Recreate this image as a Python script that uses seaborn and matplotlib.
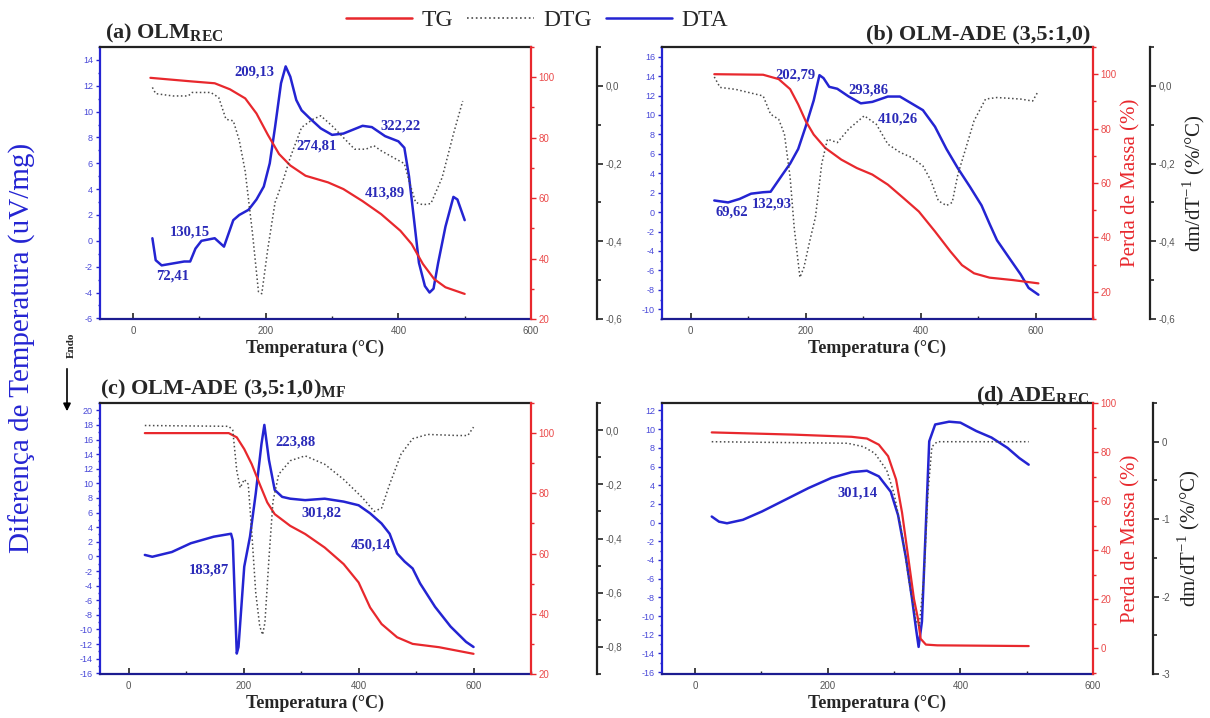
import matplotlib
matplotlib.use("Agg")
import matplotlib.pyplot as plt
import seaborn as sns
from matplotlib.lines import Line2D
from matplotlib.patches import FancyArrowPatch
from matplotlib.ticker import MultipleLocator, FuncFormatter

# ---------------------
# DATA
# ---------------------

# (a) OLM REC
a_dta_t = [29, 34, 43, 60, 77, 86, 94, 103, 123, 137, 151, 160, 174, 186, 197, 206, 214, 223, 230,
           237, 246, 254, 266, 283, 300, 317, 346, 360, 380, 400, 409, 416, 423, 431, 440, 447,
           453, 460, 471, 483, 489, 500]
a_dta = [0.2, -1.5, -1.9, -1.75, -1.6, -1.6, -0.6, 0.0, 0.2, -0.45, 1.6, 2.0, 2.4, 3.2, 4.2, 6.0,
         8.8, 12.2, 13.5, 12.7, 10.9, 10.1, 9.5, 8.7, 8.2, 8.3, 8.9, 8.8, 8.1, 7.7, 7.2, 5.0, 1.9,
         -1.7, -3.5, -4.0, -3.7, -1.7, 1.1, 3.4, 3.2, 1.6]
a_tg_t = [26, 89, 123, 146, 169, 186, 203, 220, 237, 260, 294, 317, 346, 374, 403, 420, 437, 454, 471, 500]
a_tg = [99.8, 98.6, 98.0, 96.0, 93.0, 88.0, 81.0, 74.6, 70.8, 67.4, 65.2, 63.0, 59.0, 54.7, 49.2,
        44.8, 38.2, 33.2, 30.5, 28.3]
a_dtg_t = [29, 34, 60, 83, 89, 117, 129, 140, 151, 160, 169, 180, 189, 194, 203, 214, 226, 237, 254,
           271, 283, 300, 317, 334, 351, 363, 374, 397, 409, 417, 426, 437, 449, 466, 483, 497]
a_dtg = [-0.004, -0.02, -0.026, -0.026, -0.017, -0.017, -0.03, -0.086, -0.09, -0.14, -0.22, -0.38,
         -0.53, -0.535, -0.42, -0.3, -0.244, -0.184, -0.107, -0.086, -0.077, -0.103, -0.133, -0.163,
         -0.163, -0.154, -0.167, -0.189, -0.2, -0.25, -0.3, -0.306, -0.303, -0.236, -0.124, -0.039]
a_peaks = ["209,13", "274,81", "322,22", "413,89", "130,15", "72,41"]
a_peak_x = [183, 277, 404, 380, 86, 60]
a_peak_y = [13.05, 7.3, 8.85, 3.7, 0.7, -2.7]

# (b) OLM-ADE (3,5:1,0)
b_dta_t = [41, 65, 85, 105, 126, 139, 146, 160, 173, 187, 200, 214, 224, 231, 241, 255, 275, 296,
           316, 343, 364, 384, 404, 425, 445, 465, 486, 506, 520, 533, 554, 574, 588, 605]
b_dta = [1.2, 1.0, 1.36, 1.9, 2.05, 2.1, 2.7, 3.9, 5.0, 6.5, 8.8, 11.5, 14.1, 13.8, 12.9, 12.7, 11.9,
         11.2, 11.35, 11.9, 11.9, 11.2, 10.5, 8.8, 6.5, 4.5, 2.6, 0.7, -1.2, -2.9, -4.7, -6.4, -7.8, -8.5]
b_tg_t = [41, 126, 153, 173, 187, 200, 214, 234, 262, 289, 316, 343, 370, 397, 425, 452, 472, 493,
          520, 561, 605]
b_tg = [100, 99.8, 98.2, 94.5, 88.9, 82.8, 77.8, 72.9, 68.6, 65.5, 63.1, 59.4, 54.5, 49.5, 42.2,
        34.8, 29.8, 26.8, 25.2, 24.3, 23.1]
b_dtg_t = [41, 51, 78, 112, 126, 139, 153, 163, 173, 180, 190, 197, 207, 217, 228, 238, 255, 275,
           302, 323, 343, 364, 384, 404, 418, 431, 445, 455, 465, 479, 493, 513, 533, 574, 595, 605]
b_dtg = [0.023, -0.004, -0.009, -0.021, -0.026, -0.073, -0.086, -0.124, -0.236, -0.364, -0.493,
         -0.467, -0.4, -0.338, -0.2, -0.137, -0.146, -0.111, -0.077, -0.099, -0.15, -0.171, -0.184,
         -0.206, -0.244, -0.296, -0.308, -0.3, -0.227, -0.159, -0.09, -0.034, -0.03, -0.034, -0.039, -0.013]
b_peaks = ["202,79", "293,86", "410,26", "69,62", "132,93"]
b_peak_x = [183, 309, 361, 71, 141]
b_peak_y = [14.1, 12.55, 9.6, 0.0, 0.85]

# (c) OLM-ADE (3,5:1,0) MF
c_dta_t = [28, 41, 75, 108, 148, 178, 181, 188, 191, 201, 211, 221, 231, 236, 244, 254, 267, 281,
           307, 341, 374, 400, 420, 440, 454, 467, 480, 494, 507, 533, 560, 587, 600]
c_dta = [0.2, -0.05, 0.6, 1.8, 2.7, 3.1, 2.2, -13.3, -12.4, -1.4, 2.7, 8.6, 15.4, 18.0, 13.2, 9.1,
         8.15, 7.9, 7.7, 7.9, 7.5, 7.0, 5.9, 4.5, 3.1, 0.4, -0.7, -1.65, -3.7, -6.9, -9.6, -11.7, -12.4]
c_tg_t = [28, 174, 188, 201, 214, 228, 241, 254, 281, 307, 341, 374, 400, 420, 440, 467, 494, 540, 600]
c_tg = [100, 100, 98.6, 94.7, 89.7, 83.0, 77.0, 73.1, 69.2, 66.5, 62.0, 56.5, 50.4, 42.1, 36.6,
        32.2, 30.0, 28.9, 26.7]
c_dtg_t = [28, 174, 181, 188, 194, 201, 208, 214, 221, 228, 233, 237, 244, 251, 261, 281, 307, 341,
           374, 407, 427, 440, 454, 474, 494, 520, 573, 590, 600]
c_dtg = [0.017, 0.014, 0.0, -0.15, -0.213, -0.182, -0.2, -0.375, -0.6, -0.724, -0.755, -0.71, -0.474,
         -0.263, -0.163, -0.113, -0.095, -0.126, -0.182, -0.25, -0.3, -0.288, -0.2, -0.088, -0.032,
         -0.016, -0.02, -0.02, 0.011]
c_peaks = ["223,88", "301,82", "450,14", "183,87"]
c_peak_x = [291, 335, 422, 139]
c_peak_y = [15.7, 5.9, 1.5, -1.9]

# (d) ADE REC
d_dta_t = [25, 36, 48, 72, 101, 136, 171, 206, 236, 259, 277, 295, 306, 318, 327, 333, 337, 342,
           348, 353, 362, 383, 400, 424, 447, 471, 489, 503]
d_dta = [0.65, 0.1, -0.07, 0.3, 1.2, 2.45, 3.7, 4.8, 5.4, 5.55, 4.95, 3.3, 0.8, -3.8, -8.1, -11.3,
         -13.3, -10.6, -0.2, 8.7, 10.5, 10.8, 10.7, 9.8, 9.1, 8.0, 6.9, 6.2]
d_tg_t = [25, 148, 236, 259, 277, 291, 303, 312, 321, 330, 336, 340, 348, 365, 503]
d_tg = [88, 87.1, 86.2, 85.5, 83, 78.3, 68.8, 55.3, 37.7, 20, 12, 3.8, 1.4, 1.1, 0.8]
d_dtg_t = [25, 230, 254, 271, 289, 300, 312, 324, 333, 338, 345, 351, 357, 365, 503]
d_dtg = [0, -0.02, -0.065, -0.15, -0.37, -0.67, -1.19, -1.88, -2.31, -2.38, -1.75, -0.67, -0.065, 0, 0]
d_peaks = ["301,14"]
d_peak_x = [245]
d_peak_y = [3.2]

# ---------------------
# STYLE
# ---------------------

sns.set_style("ticks")
plt.rcParams['font.family'] = ['Liberation Serif', 'DejaVu Serif']
plt.rcParams['mathtext.fontset'] = 'custom'
plt.rcParams['mathtext.rm'] = 'Liberation Serif'
plt.rcParams['mathtext.bf'] = 'Liberation Serif:bold'

BLUE = '#2424d2'
BLUE_TXT = '#2a2ab8'
RED = '#e8282d'
GREY = '#4a4a4a'

W, H = 1210, 718
fig = plt.figure(figsize=(12.1, 7.18), dpi=100)


def box(l, t, r, b):
    return [l / W, 1 - b / H, (r - l) / W, (b - t) / H]


def comma(fmt):
    def f(v, pos):
        if abs(v) < 1e-9:
            v = 0.0
        return (fmt % v).replace('.', ',')
    return FuncFormatter(f)


def panel(rect, t_dta, dta, t_tg, tg, t_dtg, dtg, xlim, ylim_dta, ylim_tg, ylim_dtg,
          dtg_step, dtg_fmt, offset_px, peaks, px, py, side_labels):
    ax = fig.add_axes(rect)
    ax_tg = ax.twinx()
    ax_dtg = ax.twinx()

    sns.lineplot(x=t_dta, y=dta, ax=ax, color=BLUE, linewidth=1.8,
                 estimator=None, sort=False)
    sns.lineplot(x=t_tg, y=tg, ax=ax_tg, color=RED, linewidth=1.6,
                 estimator=None, sort=False)
    sns.lineplot(x=t_dtg, y=dtg, ax=ax_dtg, color=GREY, linewidth=1.1,
                 linestyle=':', estimator=None, sort=False)

    ax.set_xlim(*xlim)
    ax.set_ylim(*ylim_dta)
    ax_tg.set_ylim(*ylim_tg)
    ax_dtg.set_ylim(*ylim_dtg)

    # spines
    ax.spines['left'].set_color(BLUE)
    ax.spines['bottom'].set_color('#1c1c90')
    ax.spines['top'].set_color('#222222')
    ax.spines['right'].set_visible(False)
    for s in ['left', 'top', 'bottom']:
        ax_tg.spines[s].set_visible(False)
        ax_dtg.spines[s].set_visible(False)
    ax_tg.spines['right'].set_color(RED)
    ax_dtg.spines['right'].set_color('#222222')
    # outward offset is given in points
    ax_dtg.spines['right'].set_position(('outward', offset_px * 0.72))
    for a in (ax, ax_tg, ax_dtg):
        for s in a.spines.values():
            s.set_linewidth(1.6)

    # x axis
    ax.xaxis.set_major_locator(MultipleLocator(200))
    ax.xaxis.set_minor_locator(MultipleLocator(100))
    ax.tick_params(axis='x', which='major', direction='in', length=4, width=1.2,
                   labelsize=7, labelcolor='#555555', color='#222222', pad=5,
                   labelfontfamily='Liberation Sans')
    ax.tick_params(axis='x', which='minor', direction='in', length=2.5, width=1, color='#222222')
    ax.set_xlabel('Temperatura (°C)', fontsize=13, fontweight='bold', labelpad=3)
    ax.set_ylabel('')

    # DTA axis
    ax.yaxis.set_major_locator(MultipleLocator(2))
    ax.yaxis.set_minor_locator(MultipleLocator(1))
    ax.yaxis.set_major_formatter(comma('%.0f'))
    ax.tick_params(axis='y', which='both', direction='out', color=BLUE, width=1,
                   labelcolor='#4848d8', labelsize=6.5, pad=2,
                   labelfontfamily='Liberation Sans')
    ax.tick_params(axis='y', which='major', length=3)
    ax.tick_params(axis='y', which='minor', length=1.8)

    # TG axis
    ax_tg.yaxis.set_major_locator(MultipleLocator(20))
    ax_tg.yaxis.set_minor_locator(MultipleLocator(10))
    ax_tg.tick_params(axis='y', which='both', direction='out', color=RED, width=1,
                      labelcolor='#ea4a4a', labelsize=7, pad=2,
                      labelfontfamily='Liberation Sans')
    ax_tg.tick_params(axis='y', which='major', length=3.5)
    ax_tg.tick_params(axis='y', which='minor', length=2.5)

    # DTG axis
    ax_dtg.yaxis.set_major_locator(MultipleLocator(dtg_step))
    ax_dtg.yaxis.set_minor_locator(MultipleLocator(dtg_step / 2))
    ax_dtg.yaxis.set_major_formatter(comma(dtg_fmt))
    ax_dtg.tick_params(axis='y', which='both', direction='out', color='#222222', width=1.2,
                       labelcolor='#555555', labelsize=7, pad=2,
                       labelfontfamily='Liberation Sans')
    ax_dtg.tick_params(axis='y', which='major', length=4)
    ax_dtg.tick_params(axis='y', which='minor', length=3)

    if side_labels:
        ax_tg.set_ylabel('Perda de Massa (%)', color=RED, fontsize=15, labelpad=3)
        ax_dtg.set_ylabel(r'dm/dT$^{-1}$ (%/°C)', color='#222222', fontsize=15, labelpad=4)
    else:
        ax_tg.set_ylabel('')
        ax_dtg.set_ylabel('')

    for lab, x, y in zip(peaks, px, py):
        ax.text(x, y, lab, color=BLUE_TXT, fontsize=10.5, fontweight='bold',
                ha='center', va='center', zorder=5)
    return ax


panel(box(100, 47, 531, 319), a_dta_t, a_dta, a_tg_t, a_tg, a_dtg_t, a_dtg,
      (-50, 600), (-6.05, 15), (20, 110), (-0.6, 0.1), 0.2, '%.1f', 66,
      a_peaks, a_peak_x, a_peak_y, False)
panel(box(662, 47, 1093, 319), b_dta_t, b_dta, b_tg_t, b_tg, b_dtg_t, b_dtg,
      (-50, 700), (-11, 17), (10, 110), (-0.6, 0.1), 0.2, '%.1f', 57,
      b_peaks, b_peak_x, b_peak_y, True)
panel(box(100, 403, 531, 674), c_dta_t, c_dta, c_tg_t, c_tg, c_dtg_t, c_dtg,
      (-50, 700), (-16.1, 21), (20, 110), (-0.9, 0.1), 0.2, '%.1f', 66,
      c_peaks, c_peak_x, c_peak_y, False)
panel(box(662, 403, 1093, 674), d_dta_t, d_dta, d_tg_t, d_tg, d_dtg_t, d_dtg,
      (-50, 600), (-16.2, 12.8), (-10.6, 100), (-3, 0.5), 1, '%.0f', 60,
      d_peaks, d_peak_x, d_peak_y, True)

# ---------------------
# FIGURE TEXT
# ---------------------

fig.text(105 / W, 1 - 38 / H, r'(a) OLM$_{\mathbf{REC}}$', fontsize=16, fontweight='bold',
         ha='left', va='baseline')
fig.text(1090 / W, 1 - 39 / H, '(b) OLM-ADE (3,5:1,0)', fontsize=16, fontweight='bold',
         ha='right', va='baseline')
fig.text(100 / W, 1 - 394 / H, r'(c) OLM-ADE (3,5:1,0)$_{\mathbf{MF}}$', fontsize=16,
         fontweight='bold', ha='left', va='baseline')
fig.text(1090 / W, 1 - 401 / H, r'(d) ADE$_{\mathbf{REC}}$', fontsize=16, fontweight='bold',
         ha='right', va='baseline')

fig.text(22 / W, 1 - 348 / H, 'Diferença de Temperatura (uV/mg)', rotation=90, color=BLUE,
         fontsize=21, ha='center', va='center')
fig.text(71 / W, 1 - 345 / H, 'Endo', rotation=90, fontsize=8, fontweight='bold',
         ha='center', va='center')
fig.add_artist(FancyArrowPatch((67 / W, 1 - 366 / H), (67 / W, 1 - 414 / H),
                               transform=fig.transFigure, arrowstyle='-|>',
                               mutation_scale=11, color='black', lw=1.2))

handles = [Line2D([], [], color=RED, lw=1.8),
           Line2D([], [], color=GREY, lw=1.2, ls=':'),
           Line2D([], [], color=BLUE, lw=1.8)]
fig.legend(handles, ['TG', 'DTG', 'DTA'], loc='center', bbox_to_anchor=(537 / W, 1 - 20 / H),
           ncol=3, frameon=False, fontsize=17, handlelength=2.8, columnspacing=0.6,
           handletextpad=0.4)

fig.savefig('out.png', dpi=100)
